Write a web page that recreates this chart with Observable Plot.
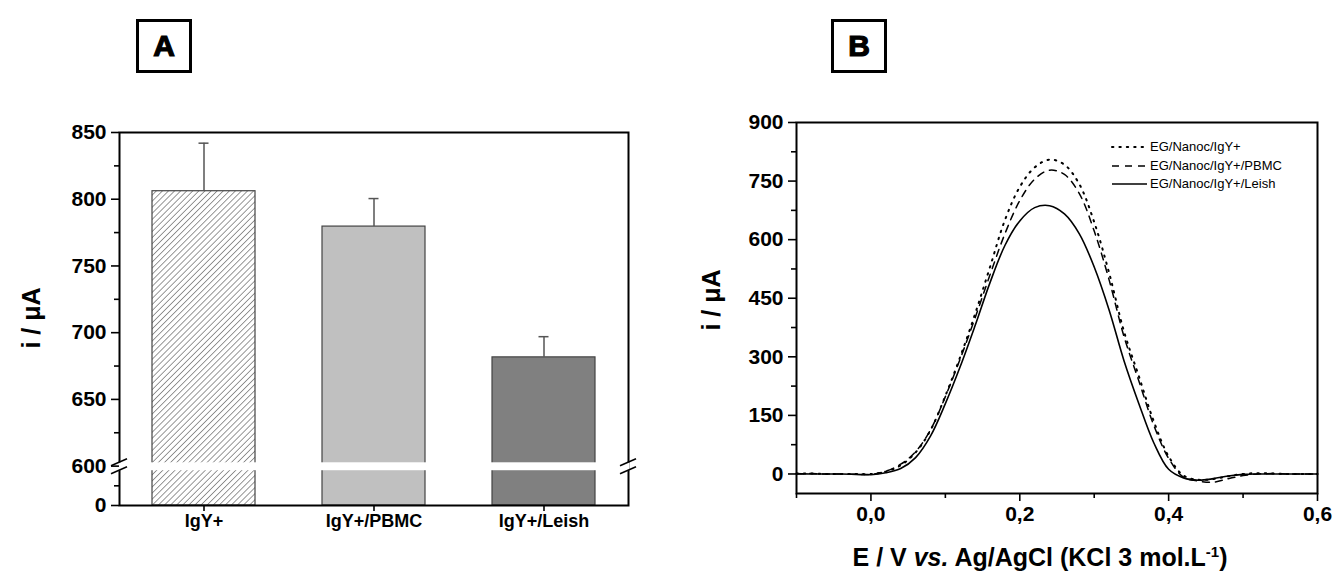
<!DOCTYPE html>
<html>
<head>
<meta charset="utf-8">
<script src="https://cdn.jsdelivr.net/npm/d3@7"></script>
<script src="https://cdn.jsdelivr.net/npm/@observablehq/plot@0.6"></script>
<style>
  html,body{margin:0;padding:0;background:#fff;}
  #chart{position:relative;width:1334px;height:579px;overflow:hidden;font-family:"Liberation Sans",Arial,sans-serif;color:#000;}
  .panel{position:absolute;top:0;}
  .tag{position:absolute;top:19px;width:50px;height:48px;border:3px solid #000;display:flex;align-items:center;justify-content:center;font-weight:900;font-size:30px;-webkit-text-stroke:1.2px #000;}
  .ylab{position:absolute;font-weight:bold;font-size:25px;transform:translate(-50%,-50%) rotate(-90deg);white-space:nowrap;}
  .xlab{position:absolute;font-weight:bold;font-size:25px;transform:translateX(-50%);white-space:nowrap;}
  .xlab sup{font-size:15px;}
  .legend{position:absolute;left:1110px;top:138px;font-size:13px;line-height:18.5px;}
  .legend div{display:flex;align-items:center;}
  .legend svg{margin-right:2px;}
</style>
</head>
<body>
<div id="chart"></div>
<script>
// ---------- Panel A data ----------
const categories = ["IgY+", "IgY+/PBMC", "IgY+/Leish"];
const meanCurrent = [806, 779.5, 681.5];
const stdDev = [36, 21, 15.5];
const yTicksA = [0, 600, 650, 700, 750, 800, 850];
const yMinorA = [300, 625, 675, 725, 775, 825];

// ---------- Panel B data ----------
const seriesNames = ["EG/Nanoc/IgY+", "EG/Nanoc/IgY+/PBMC", "EG/Nanoc/IgY+/Leish"];
const potential = [-0.10,-0.08,-0.06,-0.04,-0.02,0.00,0.02,0.04,0.06,0.08,0.10,0.12,0.14,0.16,0.18,0.20,0.22,0.24,0.26,0.28,0.30,0.32,0.34,0.36,0.38,0.40,0.42,0.44,0.46,0.48,0.50,0.52,0.54,0.56,0.58,0.60];
const currentIgY   = [1,1,0,0,0,0,6,22,55,112,200,300,410,530,650,735,785,805,792,742,645,515,365,250,135,45,-4,-15,-13,-6,0,2,1,0,0,0];
const currentPBMC  = [0,1,0,0,-1,-1,7,25,57,113,198,295,400,510,615,700,755,778,767,718,622,497,352,238,125,40,-8,-18,-21,-12,-4,0,1,0,0,0];
const currentLeish = [1,0,0,0,-1,-2,3,14,42,97,180,275,380,490,585,648,682,687,666,615,530,420,290,180,80,12,-10,-16,-12,-5,-1,0,0,0,0,0];
const yTicksB = [0, 150, 300, 450, 600, 750, 900];
const yMinorB = [75, 225, 375, 525, 675, 825];
const xTicksB = [0, 0.2, 0.4, 0.6];
const xMinorB = [-0.1, 0.1, 0.3, 0.5];

const W = 667, H = 579;
const chart = document.getElementById("chart");
const font = "Liberation Sans, Arial, sans-serif";

// ---------- Panel A (broken y axis: 0–600 compressed) ----------
const breakValue = 600, topValue = 850;
const lowerSpan = 29.5; // display units allotted to the 0–600 segment
const tA = v => v >= breakValue ? v : breakValue - (breakValue - v) * lowerSpan / breakValue;
const barData = categories.map((cat, i) => ({cat, mean: meanCurrent[i], sd: stdDev[i]}));
const mA = {left: 119, right: 39, top: 132, bottom: 74};
const labelOf = new Map(yTicksA.map(v => [tA(v), v]));

function hatchDefs() {
  const g = d3.create("svg:defs");
  const p = g.append("pattern").attr("id", "hatchA").attr("patternUnits", "userSpaceOnUse")
    .attr("width", 4.3).attr("height", 4.3).attr("patternTransform", "rotate(45)");
  p.append("rect").attr("width", 4.3).attr("height", 4.3).attr("fill", "#fff");
  p.append("line").attr("x1", 0).attr("y1", 0).attr("x2", 0).attr("y2", 4.3)
    .attr("stroke", "#444").attr("stroke-width", 1.1);
  return g.node();
}

function axisBreak(index, scales, values, dims) {
  const y = scales.y;
  const yTop = y(tA(breakValue + 2.5)), yBot = y(tA(breakValue - 70));
  const g = d3.create("svg:g");
  g.append("rect").attr("x", dims.marginLeft - 1.5).attr("y", yTop)
    .attr("width", dims.width - dims.marginLeft - dims.marginRight + 3).attr("height", yBot - yTop)
    .attr("fill", "#fff");
  for (const xx of [dims.marginLeft, dims.width - dims.marginRight]) {
    for (const yy of [yTop, yBot]) {
      g.append("line").attr("x1", xx - 8).attr("x2", xx + 8).attr("y1", yy + 3.5).attr("y2", yy - 3.5)
        .attr("stroke", "#000").attr("stroke-width", 1.5);
    }
  }
  return g.node();
}

const plotA = Plot.plot({
  width: W, height: H,
  marginLeft: mA.left, marginRight: mA.right, marginTop: mA.top, marginBottom: mA.bottom,
  style: {fontFamily: font, fontSize: "21px", fontWeight: "bold", color: "#000", background: "transparent"},
  x: {domain: categories, paddingInner: 0.394, paddingOuter: 0.194, label: null},
  y: {domain: [tA(0), topValue], label: null},
  color: {domain: categories, range: ["url(#hatchA)", "#c0c0c0", "#808080"]},
  marks: [
    hatchDefs,
    Plot.barY(barData, {x: "cat", y1: tA(0), y2: d => tA(d.mean), fill: "cat", stroke: "#444", strokeWidth: 1.2}),
    Plot.ruleX(barData, {x: "cat", y1: d => tA(d.mean), y2: d => tA(d.mean + d.sd), stroke: "#555", strokeWidth: 1.5}),
    Plot.tickY(barData, {x: "cat", y: d => tA(d.mean + d.sd), insetLeft: 46.5, insetRight: 46.5, stroke: "#555", strokeWidth: 1.5}),
    Plot.frame({stroke: "#000", strokeWidth: 2}),
    axisBreak,
    Plot.axisY({ticks: yTicksA.map(tA), tickFormat: d => String(labelOf.get(d)), tickSize: 8, tickPadding: 5, fontSize: 21, fontWeight: "bold", strokeWidth: 1.6, label: null}),
    Plot.axisY({ticks: yMinorA.map(tA), tickSize: 5, tickFormat: () => "", strokeWidth: 1.6, label: null}),
    Plot.axisX({tickSize: 6, tickPadding: 3, fontSize: 18, fontWeight: "bold", strokeWidth: 1.6, label: null})
  ]
});
plotA.classList.add("panel");
plotA.style.left = "0px";
chart.appendChild(plotA);

// ---------- Panel B ----------
const mB = {left: 129, right: 17, top: 122, bottom: 86};
const seriesStyles = [
  {strokeDasharray: "1.4,6", strokeWidth: 2, strokeLinecap: "round"},
  {strokeDasharray: "7,6", strokeWidth: 1.5},
  {strokeWidth: 1.6}
];
const seriesValues = [currentIgY, currentPBMC, currentLeish];
const commaFmt = d => d.toFixed(1).replace(".", ",");

const plotB = Plot.plot({
  width: W, height: H,
  marginLeft: mB.left, marginRight: mB.right, marginTop: mB.top, marginBottom: mB.bottom,
  style: {fontFamily: font, fontSize: "21px", fontWeight: "bold", color: "#000", background: "transparent"},
  x: {domain: [-0.1, 0.6], label: null},
  y: {domain: [-50, 900], label: null},
  marks: [
    ...seriesValues.map((vals, s) =>
      Plot.line(potential.map((E, i) => [E, vals[i]]), {curve: "catmull-rom", stroke: "#000", ...seriesStyles[s]})),
    Plot.frame({stroke: "#000", strokeWidth: 2}),
    Plot.axisY({ticks: yTicksB, tickSize: 8, tickPadding: 5, fontSize: 21, fontWeight: "bold", strokeWidth: 1.6, label: null}),
    Plot.axisY({ticks: yMinorB, tickSize: 5, tickFormat: () => "", strokeWidth: 1.6, label: null}),
    Plot.axisX({ticks: xTicksB, tickFormat: commaFmt, tickSize: 8, tickPadding: 5, fontSize: 21, fontWeight: "bold", strokeWidth: 1.6, label: null}),
    Plot.axisX({ticks: xMinorB, tickSize: 5, tickFormat: () => "", strokeWidth: 1.6, label: null})
  ]
});
plotB.classList.add("panel");
plotB.style.left = W + "px";
chart.appendChild(plotB);

// ---------- Text overlays ----------
function addDiv(cls, html, css) {
  const d = document.createElement("div");
  d.className = cls; d.innerHTML = html;
  Object.assign(d.style, css);
  chart.appendChild(d);
  return d;
}
addDiv("tag", "A", {left: "136px"});
addDiv("tag", "B", {left: "831px"});
addDiv("ylab", "i / μA", {left: "31px", top: "318px"});
addDiv("ylab", "i / μA", {left: "711px", top: "300px"});
addDiv("xlab", "E / V <i>vs.</i> Ag/AgCl (KCl 3 mol.L<sup>-1</sup>)", {left: "1040px", top: "543px"});

// Legend
const legend = addDiv("legend", "", {});
seriesNames.forEach((name, s) => {
  const row = document.createElement("div");
  const svg = d3.create("svg").attr("width", 38).attr("height", 10);
  const ln = svg.append("line").attr("x1", 2).attr("x2", 37).attr("y1", 5).attr("y2", 5)
    .attr("stroke", "#000").attr("stroke-width", seriesStyles[s].strokeWidth);
  if (seriesStyles[s].strokeDasharray) ln.attr("stroke-dasharray", seriesStyles[s].strokeDasharray);
  if (seriesStyles[s].strokeLinecap) ln.attr("stroke-linecap", seriesStyles[s].strokeLinecap);
  row.appendChild(svg.node());
  const t = document.createElement("span");
  t.textContent = name;
  row.appendChild(t);
  legend.appendChild(row);
});
</script>
</body>
</html>
